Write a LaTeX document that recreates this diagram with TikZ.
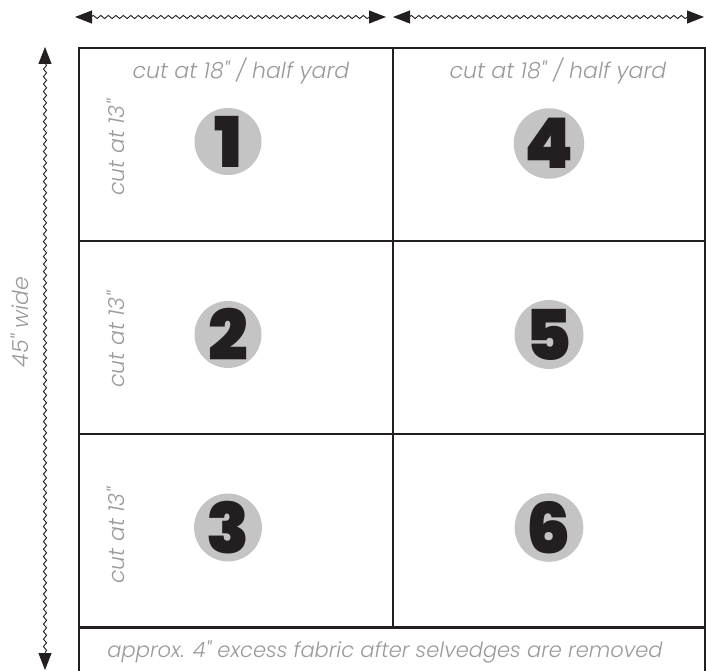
\documentclass[tikz,border=0pt]{standalone}
\usepackage{fontspec}
\usetikzlibrary{arrows.meta, decorations.pathmorphing}
\newfontfamily\thinfont{Poppins Light Italic}
\newfontfamily\numfont{Poppins Black}
\definecolor{cline}{HTML}{231F20}
\definecolor{ctext}{HTML}{9A9A9A}
\definecolor{cdisc}{HTML}{C4C4C4}
\tikzset{
  every picture/.style={line width=2pt},
  cell/.style={draw=cline, anchor=north west, inner sep=0pt, minimum width=#1, minimum height=193pt},
  cell/.default=314pt,
  disc/.style={circle, fill=cdisc, minimum size=67pt, inner sep=0pt, font=\numfont\fontsize{70}{70}\selectfont, text=cline},
  lbl/.style={font=\thinfont\fontsize{22}{22}\selectfont, text=ctext, inner sep=0pt},
  vlbl/.style={lbl, rotate=90},
  wavy/.style={{Triangle[length=17pt, width=13pt]}-{Triangle[length=17pt, width=13pt]}, draw=cline, line width=0.9pt,
    decorate, decoration={snake, amplitude=1.6pt, segment length=7.5pt, pre length=16pt, post length=16pt}},
}
\begin{document}
\begin{tikzpicture}[x=1pt, y=-1pt]
  \useasboundingbox (0,0) rectangle (706,671);
  % cutting grid
  \node[cell] (c1) at (78,47) {};
  \node[cell] (c2) at (78,240) {};
  \node[cell] (c3) at (78,433) {};
  \node[cell=312pt] (c4) at (392,47) {};
  \node[cell=312pt] (c5) at (392,240) {};
  \node[cell=312pt] (c6) at (392,433) {};
  \node[cell=626pt, minimum height=70pt] (excess) at (78,627) {};
  % labels
  \node[lbl] (top1) at ([xshift=5pt, yshift=-24pt]c1.north) {cut at 18" / half yard};
  \node[lbl] (top4) at ([xshift=9pt, yshift=-24pt]c4.north) {cut at 18" / half yard};
  \node[vlbl] (side1) at ([xshift=38pt, yshift=-3pt]c1.west) {cut at 13"};
  \node[vlbl] (side2) at ([xshift=38pt, yshift=-2pt]c2.west) {cut at 13"};
  \node[vlbl] (side3) at ([xshift=38pt, yshift=-5pt]c3.west) {cut at 13"};
  \node[lbl, font=\thinfont\fontsize{21}{21}\selectfont] (note) at (385,652) {approx. 4" excess fabric after selvedges are removed};
  \node[vlbl] (wide) at (20,322) {45" wide};
  % pieces
  \node[disc] (n1) at ([xshift=-8pt, yshift=3pt]c1.center) {1};
  \node[disc] (n2) at ([xshift=-8pt, yshift=3pt]c2.center) {2};
  \node[disc] (n3) at ([xshift=-8pt, yshift=3pt]c3.center) {3};
  \node[disc] (n4) at ([yshift=1pt]c4.center) {4};
  \node[disc] (n5) at ([yshift=3pt]c5.center) {5};
  \node[disc] (n6) at ([yshift=3pt]c6.center) {6};
  % measures
  \coordinate (tl) at (75,17);
  \coordinate (tm1) at (386,17);
  \coordinate (tm2) at (393,17);
  \coordinate (tr) at (704,17);
  \coordinate (lt) at (45,47);
  \coordinate (lb) at (45,670);
  \draw[wavy] (tl) -- (tm1);
  \draw[wavy] (tm2) -- (tr);
  \draw[wavy] (lt) -- (lb);
\end{tikzpicture}
\end{document}
